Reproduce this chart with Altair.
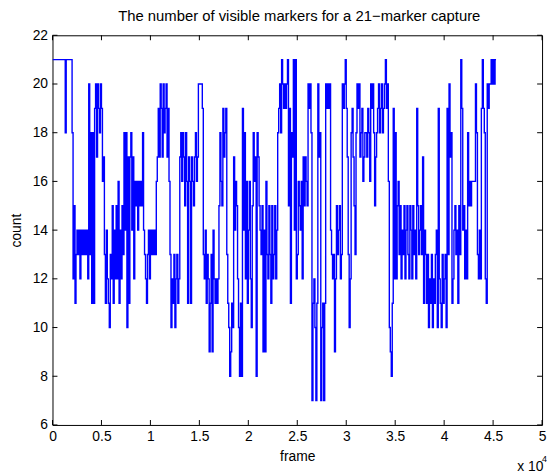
import altair as alt
import pandas as pd

# visible-marker count, one value per 100 frames, starting at frame 0
counts = [
    21,21,21,21,21,21,21,21,21,21,
    21,21,21,18,21,21,21,21,21,21,
    18,12,15,11,13,14,13,14,12,14,
    13,14,13,14,13,14,12,20,13,18,
    11,18,11,19,20,17,20,19,18,20,
    19,16,17,13,11,14,12,11,10,13,
    12,15,11,14,12,15,12,16,11,14,
    12,15,13,18,14,18,10,17,11,17,
    18,14,17,12,16,15,16,14,16,15,
    16,15,18,14,13,12,11,13,14,12,
    14,13,14,13,14,13,16,17,19,17,
    20,19,17,20,18,19,20,17,19,16,
    13,10,12,11,13,10,12,13,11,12,
    17,18,16,18,17,15,18,16,11,17,
    16,11,17,16,15,17,18,16,17,20,
    20,20,20,19,13,12,14,11,13,12,
    9,11,13,9,14,12,11,12,11,12,
    15,18,16,15,19,17,18,19,13,11,
    10,8,9,11,10,17,14,16,15,12,
    10,8,11,8,19,14,18,12,16,11,
    14,16,12,10,15,18,16,17,8,18,
    17,15,14,13,15,9,14,9,16,13,
    12,15,13,11,15,12,13,15,12,14,
    18,19,20,18,21,20,19,20,19,20,
    21,15,19,11,18,17,21,14,21,12,
    13,16,15,14,16,12,17,15,17,16,
    15,20,19,20,18,7,11,12,10,7,
    11,20,17,18,7,10,11,7,11,20,
    19,20,19,20,14,13,12,13,9,12,
    15,13,14,15,12,13,20,19,20,21,
    19,17,13,10,12,18,19,17,15,13,
    18,20,19,20,17,18,19,16,17,18,
    18,17,19,18,16,20,19,20,18,15,
    17,18,19,20,18,19,20,18,19,20,
    21,19,20,16,10,9,8,11,19,12,
    18,12,15,16,13,15,12,14,13,15,
    12,14,15,13,12,15,14,12,15,13,
    14,12,19,15,13,14,15,13,17,11,
    14,13,11,13,10,12,11,13,10,12,
    11,13,14,10,19,12,11,10,13,11,
    12,13,10,19,13,20,17,18,11,12,
    14,15,13,14,11,15,13,21,19,14,
    15,12,14,12,18,15,16,15,16,16,
    16,16,20,18,13,12,14,12,19,21,
    19,18,12,11,20,19,20,20,21,20,
    21,20,21,
]
frame_step = 100
x_ticks = [0, 5000, 10000, 15000, 20000, 25000, 30000, 35000, 40000, 45000, 50000]
y_ticks = [6, 8, 10, 12, 14, 16, 18, 20, 22]

frames = [i * frame_step for i in range(len(counts))] + [len(counts) * frame_step]
values = counts + [counts[-1]]
df = pd.DataFrame({"frame": frames, "count": values})
xt = pd.DataFrame({"t": x_ticks})
yt = pd.DataFrame({"t": y_ticks})

W, H = 495, 394
FONT = "Liberation Sans"
FS = 14

xscale = alt.Scale(domain=[0, 50000], nice=False, zero=False)
yscale = alt.Scale(domain=[6, 22], nice=False, zero=False)

line = alt.Chart(df).mark_line(interpolate="step-after", color="#0000ff", strokeWidth=1.4, clip=True).encode(
    x=alt.X("frame:Q", scale=xscale,
            axis=alt.Axis(values=x_ticks, labelExpr="'' + datum.value / 10000", ticks=False, domain=False,
                          grid=False, title="frame", labelPadding=5, titlePadding=6, labelFlush=False,
                          labelFont=FONT, titleFont=FONT, labelFontSize=FS, titleFontSize=FS,
                          labelColor="black", titleColor="black", titleFontWeight="normal")),
    y=alt.Y("count:Q", scale=yscale,
            axis=alt.Axis(values=y_ticks, ticks=False, domain=False, grid=False, title="count",
                          labelPadding=5, titlePadding=9,
                          labelFont=FONT, titleFont=FONT, labelFontSize=FS, titleFontSize=FS,
                          labelColor="black", titleColor="black", titleFontWeight="normal")),
)

tb = alt.Chart(xt).mark_rule(color="black", strokeWidth=1).encode(
    x=alt.X("t:Q", scale=xscale), y=alt.value(H), y2=alt.value(H - 5))
tt = alt.Chart(xt).mark_rule(color="black", strokeWidth=1).encode(
    x=alt.X("t:Q", scale=xscale), y=alt.value(0), y2=alt.value(5))
tl = alt.Chart(yt).mark_rule(color="black", strokeWidth=1).encode(
    y=alt.Y("t:Q", scale=yscale), x=alt.value(0), x2=alt.value(5))
tr = alt.Chart(yt).mark_rule(color="black", strokeWidth=1).encode(
    y=alt.Y("t:Q", scale=yscale), x=alt.value(W), x2=alt.value(W - 5))

mult = alt.Chart(pd.DataFrame({"s": ["x 10"]})).mark_text(
    font=FONT, fontSize=FS, align="left", baseline="alphabetic", color="black").encode(
    text="s:N", x=alt.value(470), y=alt.value(H + 47))
sup = alt.Chart(pd.DataFrame({"s": ["4"]})).mark_text(
    font=FONT, fontSize=9, align="left", baseline="alphabetic", color="black").encode(
    text="s:N", x=alt.value(495), y=alt.value(H + 37))

chart = alt.layer(line, tb, tt, tl, tr, mult, sup).properties(
    width=W, height=H, background="white",
    title=alt.TitleParams("The number of visible markers for a 21\u2212marker capture",
                          font=FONT, fontSize=15, fontWeight="normal", anchor="middle", offset=4,
                          dx=2, color="black"),
    autosize=alt.AutoSizeParams(type="none"),
    padding={"left": 45, "top": 25, "right": 5, "bottom": 48},
).configure_view(stroke="black", strokeWidth=1)

chart.save("out.html", embed_options={"renderer": "svg", "actions": False})
